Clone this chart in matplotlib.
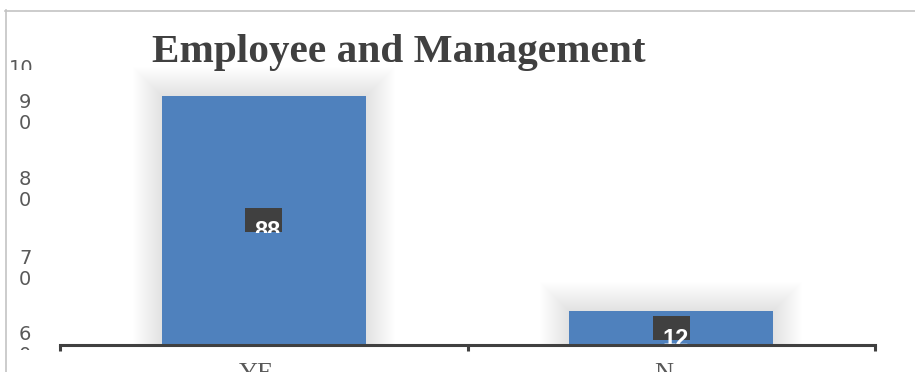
import matplotlib
matplotlib.use('Agg')
import matplotlib.pyplot as plt
from matplotlib.patches import Rectangle
from matplotlib.lines import Line2D
from matplotlib.transforms import Bbox, ScaledTranslation

# survey answers (category names wrap in the narrow label slots)
categories = ['YE\nS', 'N\nO']
values = [88, 12]

# value-axis labels as they wrap in the narrow label column
ytick_values = [1, 28, 56, 83]
ytick_labels = ['6\n0', '7\n0', '8\n0', '9\n0']
top_label = '10'

title = 'Employee and Management'

W, H = 915, 372
BAR = '#4f81bd'
DARK = '#404040'
GREY = '#595959'


def px_box(x0, y0, x1, y1):
    # pixel box measured from the top-left corner -> display bbox
    return Bbox([[x0, H - y1], [x1, H - y0]])


def main():
    fig = plt.figure(figsize=(W / 100, H / 100), dpi=100)
    ax = fig.add_axes([60 / W, 1 - 345 / H, 815 / W, 283 / H])
    ax.set_xlim(-0.5, len(categories) - 0.5)
    ax.set_ylim(0, 100)

    xs = list(range(len(categories)))
    bars = ax.bar(xs, values, width=0.5, color=BAR, zorder=3)

    # pixels per data unit, used for the glow and the label boxes
    (x0, y0), (x1, y1) = ax.transData.transform([(0, 0), (1, 1)])
    ppx, ppy = x1 - x0, y1 - y0

    # soft glow around each bar
    for b in bars:
        for k in range(1, 30):
            ax.add_patch(Rectangle((b.get_x() - k / ppx, 0),
                                   b.get_width() + 2 * k / ppx,
                                   b.get_height() + k / ppy,
                                   facecolor='black', alpha=0.003,
                                   edgecolor='none', zorder=1))

    # dark value boxes with the number slipping below them
    clip_pad = [1, 6]
    for x, v, pad in zip(xs, values, clip_pad):
        bw, bh = 37 / ppx, 24 / ppy
        cy = v / 2
        ax.add_patch(Rectangle((x - bw / 2, cy - bh / 2), bw, bh,
                               facecolor=DARK, edgecolor='none', zorder=4))
        t = ax.text(x + 4 / ppx, cy - 18 / ppy, str(v), color='white',
                    fontsize=17, fontweight='bold', family='Liberation Sans',
                    ha='center', va='baseline', zorder=5)
        cx, cyp = ax.transData.transform((x, cy))
        t.set_clip_box(Bbox([[cx - 19, cyp - 12 - pad], [cx + 19, cyp + 12]]))
        t.set_clip_on(True)

    # axis styling
    for s in ['left', 'top', 'right']:
        ax.spines[s].set_visible(False)
    ax.spines['bottom'].set_color(DARK)
    ax.spines['bottom'].set_linewidth(2.2)
    ax.spines['bottom'].set_zorder(6)

    ax.set_xticks(xs)
    ax.set_xticklabels(categories, family='Liberation Serif', fontsize=19,
                       color=GREY, linespacing=1.1)
    ax.set_xticks([-0.5, 0.5, 1.5], minor=True)
    ax.tick_params(axis='x', which='major', length=0, pad=13)
    ax.tick_params(axis='x', which='minor', length=4, width=2.2,
                   color=DARK, direction='out')
    shift = ScaledTranslation(-7 / 100, 0, fig.dpi_scale_trans)
    for lab in ax.get_xticklabels():
        lab.set_transform(lab.get_transform() + shift)

    ax.set_yticks(ytick_values)
    ax.set_yticklabels(ytick_labels, family='DejaVu Sans', fontsize=14,
                       color=GREY, linespacing=1.15)
    ax.tick_params(axis='y', length=0, pad=25)
    for lab in ax.get_yticklabels():
        lab.set_horizontalalignment('center')
        lab.set_multialignment('center')
        lab.set_clip_box(px_box(0, 75, 60, 350))
        lab.set_clip_on(True)

    t = ax.annotate(top_label, xy=(0, 100), xycoords=('axes fraction', 'data'),
                    xytext=(-39, 3), textcoords='offset pixels',
                    family='DejaVu Sans', fontsize=14, color=GREY,
                    ha='center', va='top', annotation_clip=False)
    t.set_clip_box(px_box(0, 55, 60, 70))
    t.set_clip_on(True)

    fig.text(399 / W, 1 - 62 / H, title, family='Liberation Serif',
             fontsize=29.7, fontweight='bold', color=DARK,
             ha='center', va='baseline')

    # thin frame of the chart area
    fig.add_artist(Line2D([5 / W, 1], [1 - 10.5 / H] * 2, color='#c4c4c4',
                          lw=1.2, transform=fig.transFigure))
    fig.add_artist(Line2D([5.5 / W] * 2, [0, 1 - 10 / H], color='#c4c4c4',
                          lw=1.2, transform=fig.transFigure))

    fig.savefig('out.png', dpi=100)


if __name__ == '__main__':
    main()
